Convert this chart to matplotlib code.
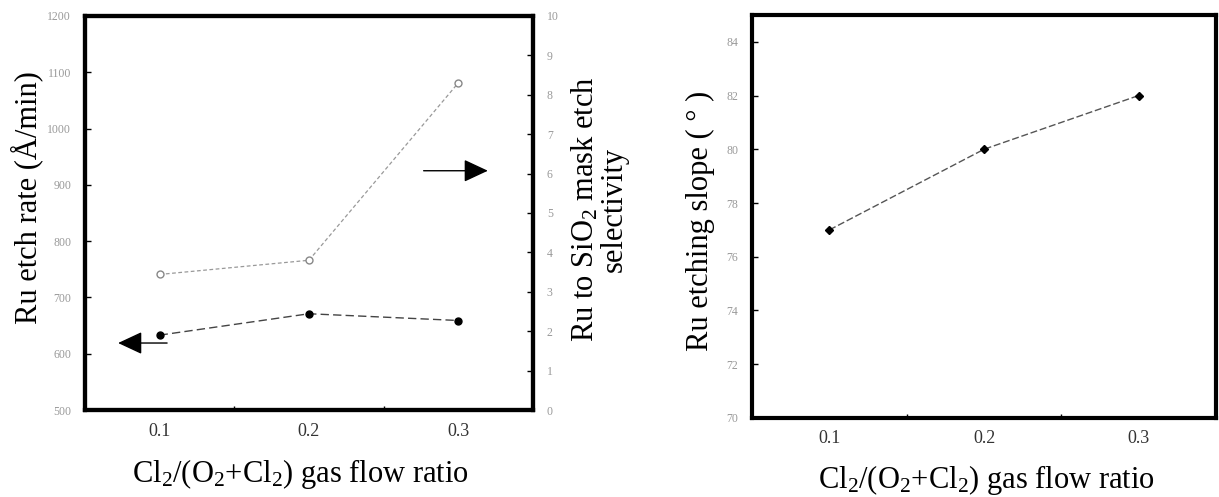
import matplotlib
matplotlib.use('Agg')
import matplotlib.pyplot as plt

plt.rcParams['font.family'] = ['Liberation Serif', 'DejaVu Serif']
plt.rcParams['mathtext.fontset'] = 'custom'
plt.rcParams['mathtext.rm'] = 'Liberation Serif'
plt.rcParams['mathtext.it'] = 'Liberation Serif:italic'

# data
ratio = [0.1, 0.2, 0.3]
etch_rate = [633, 671, 659]          # A/min, left axis
selectivity = [3.44, 3.80, 8.30]     # right axis
slope = [77.0, 80.0, 82.0]           # degrees

xlab = 'Cl$_2$/(O$_2$+Cl$_2$) gas flow ratio'

fig = plt.figure(figsize=(12.19, 4.97), dpi=100)

def style(ax):
    for s in ax.spines.values():
        s.set_linewidth(3)
    ax.set_xlim(0.05, 0.35)
    ax.set_xticks(ratio)
    ax.set_xticklabels(['0.1', '0.2', '0.3'])
    ax.set_xticks([0.15, 0.25], minor=True)
    ax.tick_params(axis='x', which='major', length=0, pad=9, labelsize=13, labelcolor='#333333')
    ax.tick_params(axis='x', which='minor', direction='in', length=3, width=1)
    ax.tick_params(axis='y', direction='in', length=4, width=1, pad=10, labelsize=8.5, labelcolor='#999999')

# left panel
ax = fig.add_axes([0.0697, 0.175, 0.3675, 0.793])
style(ax)
ax.set_ylim(500, 1200)
ax.set_yticks(range(500, 1201, 100))
ax.plot(ratio, etch_rate, color='#444444', lw=1, ls=(0, (6, 3)), marker='o',
        ms=5, mfc='black', mec='black', zorder=3)
ax.set_ylabel('Ru etch rate (Å/min)', fontsize=22)
ax.yaxis.set_label_coords(-0.094, 0.54)
ax.set_xlabel(xlab, fontsize=22)
ax.xaxis.set_label_coords(0.48, -0.12)

ax2 = ax.twinx()
ax2.set_ylim(0, 10)
ax2.set_yticks(range(0, 11))
ax2.tick_params(axis='y', direction='in', length=4, width=1, pad=10, labelsize=8.5, labelcolor='#999999')
for s in ax2.spines.values():
    s.set_linewidth(3)
ax2.plot(ratio, selectivity, color='#999999', lw=0.9, ls=(0, (3, 2)), marker='o',
         ms=5, mfc='white', mec='#888888', zorder=3)
ax2.set_ylabel('Ru to SiO$_2$ mask etch\nselectivity', fontsize=22, rotation=90,
               multialignment='center', linespacing=1.0)
ax2.yaxis.set_label_coords(1.082, 0.51)

# arrows
arw = dict(arrowstyle='-|>,head_length=1.5,head_width=0.7', color='black', lw=1,
           mutation_scale=10, shrinkA=0, shrinkB=0)
ax.annotate('', xy=(0.0722, 619), xytext=(0.105, 619), arrowprops=arw)
ax.annotate('', xy=(0.3198, 925), xytext=(0.2768, 925), arrowprops=arw)

# right panel
bx = fig.add_axes([0.617, 0.159, 0.3805, 0.811])
style(bx)
bx.set_ylim(70, 85)
bx.set_yticks(range(70, 85, 2))
bx.plot(ratio, slope, color='#555555', lw=1, ls=(0, (5, 2)), marker='D',
        ms=4.5, mfc='black', mec='black', zorder=3)
bx.set_ylabel('Ru etching slope ( ° )', fontsize=22)
bx.yaxis.set_label_coords(-0.08, 0.49)
bx.set_xlabel(xlab, fontsize=22)
bx.xaxis.set_label_coords(0.506, -0.112)

fig.savefig('out.png', dpi=100)
